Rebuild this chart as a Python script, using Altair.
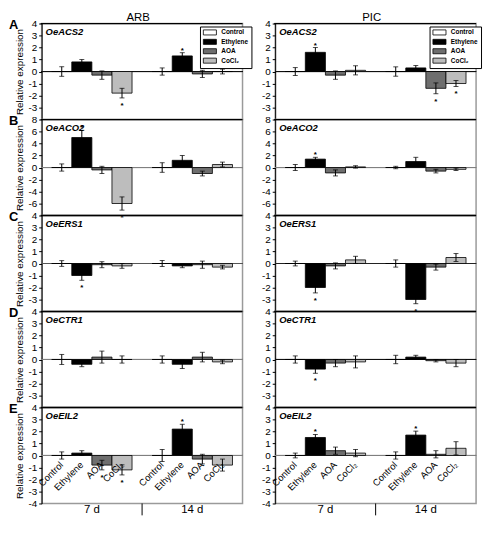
import altair as alt
import pandas as pd

# ---------------- data ----------------
categories = ["C7", "E7", "A7", "K7", "C14", "E14", "A14", "K14"]
x_domain = ["C7", "E7", "A7", "K7", "gap", "C14", "E14", "A14", "K14"]
treatments = ["Control", "Ethylene", "AOA", "CoCl₂"]
treat_colors = ["#ffffff", "#000000", "#6e6e6e", "#bdbdbd"]
tick_labels = ["Control", "Ethylene", "AOA", "CoCl₂", "Control", "Ethylene", "AOA", "CoCl₂"]
period_labels = ["7 d", "14 d"]
period_anchor = ["E7", "E14"]
column_titles = ["ARB", "PIC"]
genes = ["OeACS2", "OeACO2", "OeERS1", "OeCTR1", "OeEIL2"]
row_letters = ["A", "B", "C", "D", "E"]
y_limits = [4, 8, 4, 4, 4]
y_tick_values = [
    [-3, -2, -1, 0, 1, 2, 3, 4],
    [-6, -4, -2, 0, 2, 4, 6, 8],
    [-3, -2, -1, 0, 1, 2, 3, 4],
    [-3, -2, -1, 0, 1, 2, 3, 4],
    [-4, -3, -2, -1, 0, 1, 2, 3, 4],
]
zero_line_colors = [
    ["#111111", "#808080", "#555555", "#808080", "#808080"],   # ARB
    ["#111111", "#808080", "#222222", "#111111", "#808080"],   # PIC
]

# ARB  (order: Control, Ethylene, AOA, CoCl2 at 7 d, then at 14 d)
arb_acs2 = [0, 0.8, -0.3, -1.8, 0, 1.3, -0.2, 0.0]
arb_acs2_err = [0.4, 0.2, 0.35, 0.4, 0.3, 0.27, 0.3, 0.2]
arb_acs2_sig = [0, 0, 0, 1, 0, 1, 0, 0]
arb_aco2 = [0, 5.0, -0.4, -6.0, 0, 1.2, -1.0, 0.5]
arb_aco2_err = [0.6, 1.2, 0.6, 1.1, 0.8, 0.8, 0.4, 0.4]
arb_aco2_sig = [0, 1, 0, 1, 0, 0, 0, 0]
arb_ers1 = [0, -1.0, -0.1, -0.2, 0, -0.2, -0.1, -0.3]
arb_ers1_err = [0.24, 0.4, 0.25, 0.2, 0.25, 0.15, 0.3, 0.15]
arb_ers1_sig = [0, 1, 0, 0, 0, 0, 0, 0]
arb_ctr1 = [0, -0.4, 0.2, 0.0, 0, -0.4, 0.2, -0.2]
arb_ctr1_err = [0.42, 0.2, 0.5, 0.3, 0.3, 0.35, 0.4, 0.15]
arb_ctr1_sig = [0, 0, 0, 0, 0, 0, 0, 0]
arb_eil2 = [0, 0.2, -0.8, -1.2, 0, 2.2, -0.3, -0.8]
arb_eil2_err = [0.3, 0.2, 0.4, 0.42, 0.5, 0.4, 0.4, 0.5]
arb_eil2_sig = [0, 0, 1, 1, 0, 1, 0, 0]

# PIC
pic_acs2 = [0, 1.6, -0.3, 0.1, 0, 0.3, -1.4, -1.0]
pic_acs2_err = [0.33, 0.4, 0.35, 0.38, 0.39, 0.2, 0.45, 0.25]
pic_acs2_sig = [0, 1, 0, 0, 0, 0, 1, 1]
pic_aco2 = [0, 1.4, -0.9, 0.1, 0, 1.0, -0.6, -0.3]
pic_aco2_err = [0.5, 0.3, 0.5, 0.2, 0.2, 0.7, 0.3, 0.2]
pic_aco2_sig = [0, 1, 0, 0, 0, 0, 0, 0]
pic_ers1 = [0, -2.0, -0.2, 0.3, 0, -3.0, -0.3, 0.5]
pic_ers1_err = [0.2, 0.45, 0.25, 0.3, 0.3, 0.35, 0.25, 0.33]
pic_ers1_sig = [0, 1, 0, 0, 0, 1, 0, 0]
pic_ctr1 = [0, -0.8, -0.3, -0.2, 0, 0.2, -0.1, -0.3]
pic_ctr1_err = [0.3, 0.35, 0.3, 0.5, 0.35, 0.15, 0.1, 0.3]
pic_ctr1_sig = [0, 1, 0, 0, 0, 0, 0, 0]
pic_eil2 = [0, 1.5, 0.4, 0.2, 0, 1.7, 0.1, 0.6]
pic_eil2_err = [0.2, 0.25, 0.3, 0.3, 0.3, 0.33, 0.3, 0.55]
pic_eil2_sig = [0, 1, 0, 0, 0, 1, 0, 0]

series = {
    0: [(arb_acs2, arb_acs2_err, arb_acs2_sig), (arb_aco2, arb_aco2_err, arb_aco2_sig),
        (arb_ers1, arb_ers1_err, arb_ers1_sig), (arb_ctr1, arb_ctr1_err, arb_ctr1_sig),
        (arb_eil2, arb_eil2_err, arb_eil2_sig)],
    1: [(pic_acs2, pic_acs2_err, pic_acs2_sig), (pic_aco2, pic_aco2_err, pic_aco2_sig),
        (pic_ers1, pic_ers1_err, pic_ers1_sig), (pic_ctr1, pic_ctr1_err, pic_ctr1_sig),
        (pic_eil2, pic_eil2_err, pic_eil2_sig)],
}

# ---------------- layout ----------------
W, H = 203, 97
FONT = "Liberation Sans"
xscale = alt.Scale(domain=x_domain, paddingInner=0, paddingOuter=0.5)
color_scale = alt.Scale(domain=treatments, range=treat_colors)


def make_panel(ci, ri):
    vals, errs, sig = series[ci][ri]
    df = pd.DataFrame({
        "cat": categories,
        "grp": treatments * 2,
        "val": vals,
        "err": errs,
        "sig": sig,
    })
    df["lo"] = df["val"] - df["err"]
    df["hi"] = df["val"] + df["err"]
    df["ey"] = df["hi"].where(df["val"] >= 0, df["lo"])
    df["zero"] = 0.0

    R = y_limits[ri]
    ysc = alt.Scale(domain=[-R, R], nice=False, zero=False)
    x = alt.X("cat:N", scale=xscale, axis=None)
    yaxis = alt.Axis(
        values=y_tick_values[ri],
        title="Relative expression" if ci == 0 else None,
        labelExpr="datum.value + ''",
    )

    def Y(field):
        return alt.Y(field, type="quantitative", scale=ysc, axis=yaxis)

    legend = None
    if ri == 0:
        legend = alt.Legend(
            orient="none", legendX=160 if ci == 0 else 156, legendY=3,
            direction="vertical", title=None,
            symbolType="M-2.2,-0.85H2.2V0.85H-2.2Z", symbolSize=36,
            symbolStrokeColor="black", symbolStrokeWidth=0.8,
            symbolOffset=4, labelOffset=8,
            labelFont="Liberation Sans Narrow, Liberation Sans", labelFontSize=6.5,
            labelFontWeight="bold", labelColor="black",
            padding=2.5, rowPadding=0.5, strokeColor="black", fillColor="white",
        )

    base = alt.Chart(df)
    zero = base.mark_rule(color=zero_line_colors[ci][ri], strokeWidth=1).encode(
        y=Y("zero"), x=alt.value(0), x2=alt.value(W),
    )
    bars = base.mark_bar(stroke="black", strokeWidth=0.8).encode(
        x=x,
        y=Y("val"),
        color=alt.Color("grp:N", scale=color_scale, legend=legend),
    )
    err_rule = base.mark_rule(color="black", strokeWidth=1).encode(
        x=x, y=Y("lo"), y2="hi:Q",
    )
    cap_lo = base.mark_tick(color="black", size=5, thickness=1, orient="horizontal").encode(
        x=x, y=Y("lo"),
    )
    cap_hi = base.mark_tick(color="black", size=5, thickness=1, orient="horizontal").encode(
        x=x, y=Y("hi"),
    )
    star_up = base.transform_filter("datum.sig == 1 && datum.val >= 0").mark_text(
        text="*", fontSize=8, fontWeight="bold", baseline="alphabetic", dy=0, color="black"
    ).encode(x=x, y=Y("ey"))
    star_dn = base.transform_filter("datum.sig == 1 && datum.val < 0").mark_text(
        text="*", fontSize=8, fontWeight="bold", baseline="alphabetic", dy=10, color="black"
    ).encode(x=x, y=Y("ey"))
    gene = alt.Chart(pd.DataFrame({"g": [genes[ri]]})).mark_text(
        align="left", baseline="top", fontSize=9.5, fontWeight="bold", fontStyle="italic",
        font=FONT, color="black",
    ).encode(text="g:N", x=alt.value(4), y=alt.value(4))
    top_line = alt.Chart(pd.DataFrame({"g": [genes[ri]]})).mark_rule(
        color="black", strokeWidth=1.3
    ).encode(x=alt.value(-1), x2=alt.value(W), y=alt.value(0))

    layers = [zero, bars, err_rule, cap_lo, cap_hi, star_up, star_dn, gene, top_line]

    if ri == 0:
        layers.append(
            alt.Chart(pd.DataFrame({"t": [column_titles[ci]]})).mark_text(
                fontSize=11.5, font=FONT, baseline="bottom", align="center", color="black"
            ).encode(text="t:N", x=alt.value(W / 2 - 4), y=alt.value(-1))
        )
    if ci == 0:
        layers.append(
            alt.Chart(pd.DataFrame({"t": [row_letters[ri]]})).mark_text(
                fontSize=13, font=FONT, fontWeight="bold", baseline="middle", align="left",
                color="black",
            ).encode(text="t:N", x=alt.value(-33), y=alt.value(2))
        )
    if ri == 4:
        lab = pd.DataFrame({"cat": categories, "lab": tick_labels})
        layers.append(
            alt.Chart(lab).mark_text(
                angle=315, align="right", baseline="middle", fontSize=9.5, font=FONT, color="black"
            ).encode(x=x, y=alt.value(H / 2 + 8), text="lab:N")
        )
        per = pd.DataFrame({"cat": period_anchor, "t": period_labels})
        layers.append(
            alt.Chart(per).mark_text(
                baseline="top", align="center", fontSize=11.5, font=FONT, color="black"
            ).encode(x=alt.X("cat:N", scale=xscale, axis=None, bandPosition=1),
                     y=alt.value(H + 1), text="t:N")
        )
        layers.append(
            alt.Chart(pd.DataFrame({"cat": ["gap"]})).mark_rule(color="black", strokeWidth=1).encode(
                x=x, y=alt.value(H), y2=alt.value(H + 12)
            )
        )

    return alt.layer(*layers).properties(width=W, height=H)


panels = []
for ri in range(5):
    for ci in range(2):
        panels.append(make_panel(ci, ri))

chart = (
    alt.concat(*panels, columns=2, spacing=alt.RowColnumber(row=0, column=33), bounds="flush")
    .resolve_scale(y="independent", x="independent", color="shared")
    .resolve_legend(color="independent")
    .properties(padding=0)
    .configure_view(stroke="#9a9a9a", strokeWidth=1.5)
    .configure_axis(
        domainColor="black", tickColor="black", labelColor="black", titleColor="black",
        labelFont=FONT, labelFontSize=10, tickSize=3, labelPadding=2, grid=False,
        titleFont=FONT, titleFontSize=10, titleFontWeight="normal", titlePadding=3,
        domainWidth=1, tickWidth=1,
    )
    .configure_text(font=FONT)
)

chart.save("out.html", embed_options={"renderer": "svg", "actions": False})
